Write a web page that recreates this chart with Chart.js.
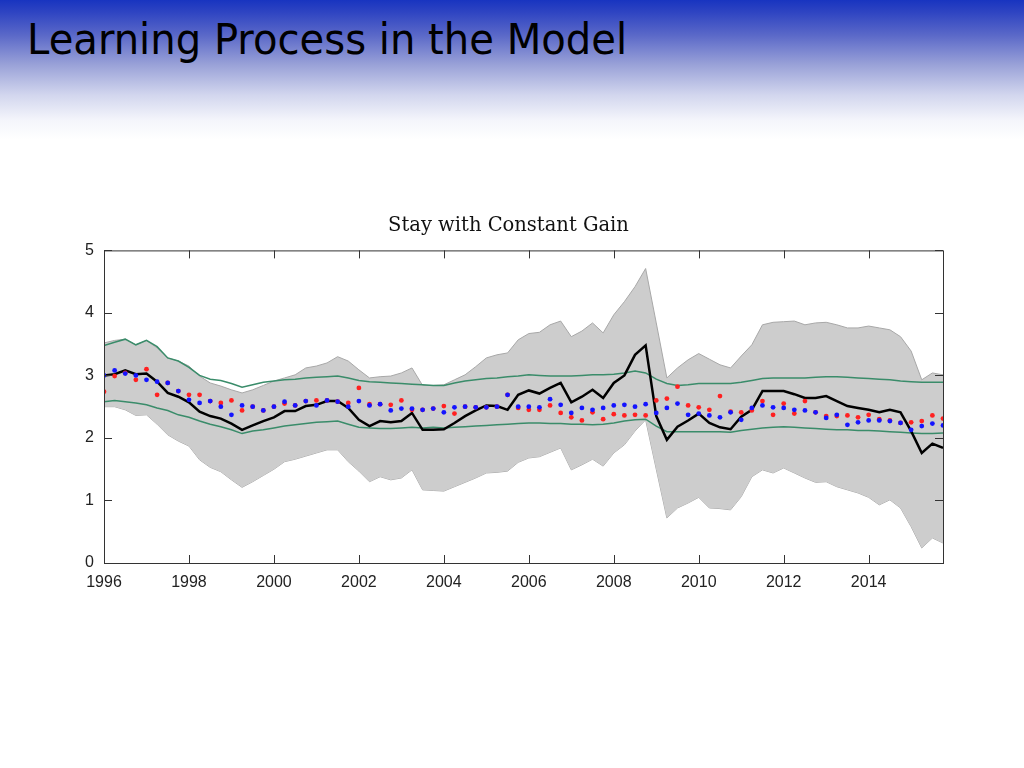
<!DOCTYPE html>
<html lang="en">
<head>
    <meta charset="UTF-8">
    <title>Learning Process in the Model</title>
    <script src="https://cdn.jsdelivr.net/npm/chart.js@4.4.0/dist/chart.umd.min.js"></script>
    <style>
        html, body { margin: 0; padding: 0; background: #fff; }
        #page { position: relative; width: 1024px; height: 768px; overflow: hidden; }
        #banner {
            position: absolute; left: 0; top: 0; width: 1024px; height: 140px;
            background: linear-gradient(to bottom, #1834c0 0px, #2e44c2 12px, #5a68c8 35px, #9aa2d8 65px, #d2d6ee 95px, #f4f5fb 120px, #ffffff 140px);
        }
        #heading {
            position: absolute; left: 27px; top: 15px; margin: 0;
            font-family: "DejaVu Sans", sans-serif; font-weight: normal;
            font-size: 42px; color: #000; white-space: nowrap;
            transform-origin: 0 0; transform: scaleX(0.955);
        }
        #wrap { position: absolute; left: 0; top: 0; width: 1024px; height: 768px; }
    </style>
</head>
<body>
<div id="page">
    <div id="banner"></div>
    <h1 id="heading">Learning Process in the Model</h1>
    <div id="wrap"><canvas id="gainChart"></canvas></div>
</div>

<script>
    // quarterly, 1996Q1 .. 2015Q4
    const startYear = 1996
    const xTicks = [1996, 1998, 2000, 2002, 2004, 2006, 2008, 2010, 2012, 2014]
    const yTicks = [0, 1, 2, 3, 4, 5]

    const bandHigh = [3.52, 3.56, 3.58, 3.49, 3.56, 3.44, 3.28, 3.23, 3.15, 2.99, 2.88, 2.83, 2.77, 2.72, 2.77, 2.84,
        2.91, 2.96, 3.01, 3.12, 3.15, 3.20, 3.30, 3.23, 3.09, 2.96, 2.98, 2.99, 3.04, 3.12, 2.84, 2.84,
        2.85, 2.93, 3.01, 3.14, 3.28, 3.33, 3.36, 3.57, 3.67, 3.69, 3.81, 3.87, 3.62, 3.71, 3.84, 3.68,
        3.97, 4.18, 4.42, 4.71, 3.84, 2.96, 3.12, 3.25, 3.35, 3.26, 3.17, 3.12, 3.31, 3.49, 3.81, 3.85,
        3.86, 3.87, 3.81, 3.84, 3.85, 3.81, 3.76, 3.76, 3.79, 3.76, 3.73, 3.62, 3.39, 2.93, 3.04, 3.01]
    const bandLow = [2.50, 2.50, 2.45, 2.36, 2.37, 2.22, 2.05, 1.95, 1.87, 1.65, 1.53, 1.46, 1.33, 1.21, 1.30, 1.40,
        1.50, 1.62, 1.66, 1.71, 1.76, 1.81, 1.81, 1.62, 1.47, 1.30, 1.38, 1.33, 1.36, 1.49, 1.17, 1.16,
        1.15, 1.22, 1.29, 1.36, 1.44, 1.45, 1.47, 1.61, 1.68, 1.70, 1.77, 1.84, 1.49, 1.57, 1.66, 1.55,
        1.76, 1.89, 2.11, 2.29, 1.50, 0.72, 0.88, 0.96, 1.05, 0.88, 0.87, 0.85, 1.06, 1.38, 1.49, 1.44,
        1.52, 1.44, 1.36, 1.29, 1.30, 1.22, 1.17, 1.12, 1.05, 0.93, 1.01, 0.88, 0.58, 0.24, 0.40, 0.32]
    const greenHigh = [3.48, 3.53, 3.58, 3.49, 3.56, 3.46, 3.28, 3.23, 3.13, 3.00, 2.94, 2.92, 2.87, 2.81, 2.85, 2.89,
        2.91, 2.93, 2.94, 2.96, 2.97, 2.98, 2.99, 2.96, 2.92, 2.90, 2.89, 2.88, 2.87, 2.86, 2.85, 2.84,
        2.84, 2.88, 2.91, 2.93, 2.95, 2.96, 2.98, 2.99, 3.01, 3.00, 2.99, 2.99, 2.99, 3.00, 3.01, 3.01,
        3.02, 3.04, 3.07, 3.04, 2.94, 2.87, 2.84, 2.85, 2.87, 2.87, 2.87, 2.87, 2.89, 2.92, 2.95, 2.96,
        2.96, 2.96, 2.96, 2.97, 2.98, 2.98, 2.97, 2.96, 2.95, 2.94, 2.93, 2.91, 2.90, 2.89, 2.89, 2.89]
    const greenLow = [2.58, 2.60, 2.58, 2.56, 2.53, 2.48, 2.44, 2.37, 2.33, 2.27, 2.22, 2.18, 2.13, 2.07, 2.11, 2.13,
        2.16, 2.19, 2.21, 2.23, 2.25, 2.26, 2.27, 2.22, 2.17, 2.16, 2.15, 2.15, 2.16, 2.17, 2.16, 2.17,
        2.16, 2.17, 2.18, 2.19, 2.20, 2.21, 2.22, 2.23, 2.24, 2.24, 2.23, 2.23, 2.22, 2.22, 2.21, 2.22,
        2.24, 2.27, 2.29, 2.30, 2.19, 2.10, 2.10, 2.10, 2.10, 2.10, 2.10, 2.09, 2.12, 2.14, 2.16, 2.17,
        2.18, 2.17, 2.16, 2.15, 2.14, 2.13, 2.13, 2.12, 2.12, 2.11, 2.10, 2.09, 2.08, 2.07, 2.07, 2.08]
    const actual = [3.00, 3.02, 3.08, 3.02, 3.03, 2.90, 2.72, 2.66, 2.57, 2.42, 2.35, 2.31, 2.23, 2.13, 2.20, 2.27,
        2.33, 2.43, 2.43, 2.51, 2.53, 2.59, 2.59, 2.48, 2.29, 2.19, 2.27, 2.25, 2.27, 2.40, 2.13, 2.13,
        2.14, 2.24, 2.35, 2.44, 2.52, 2.51, 2.45, 2.69, 2.76, 2.71, 2.80, 2.88, 2.57, 2.66, 2.77, 2.64,
        2.88, 3.00, 3.33, 3.48, 2.35, 1.97, 2.18, 2.28, 2.39, 2.24, 2.17, 2.14, 2.34, 2.45, 2.75, 2.75,
        2.75, 2.70, 2.64, 2.64, 2.67, 2.59, 2.51, 2.48, 2.45, 2.41, 2.45, 2.41, 2.11, 1.76, 1.91, 1.84]
    const redDots = [2.74, 2.99, 3.04, 2.93, 3.10, 2.69, 2.88, 2.75, 2.69, 2.69, 2.59, 2.56, 2.60, 2.44, 2.50, 2.44,
        2.50, 2.55, 2.52, 2.59, 2.60, 2.60, 2.58, 2.56, 2.80, 2.54, 2.54, 2.53, 2.60, 2.45, 2.45, 2.47,
        2.51, 2.39, 2.50, 2.49, 2.49, 2.50, 2.69, 2.48, 2.45, 2.45, 2.52, 2.40, 2.33, 2.28, 2.41, 2.30,
        2.38, 2.36, 2.37, 2.36, 2.60, 2.63, 2.82, 2.52, 2.49, 2.45, 2.67, 2.42, 2.41, 2.44, 2.59, 2.37,
        2.55, 2.39, 2.59, 2.41, 2.35, 2.35, 2.36, 2.33, 2.37, 2.30, 2.28, 2.24, 2.25, 2.27, 2.36, 2.31]
    const blueDots = [3.00, 3.08, 3.03, 3.00, 2.93, 2.90, 2.88, 2.75, 2.61, 2.56, 2.59, 2.50, 2.37, 2.52, 2.50, 2.44,
        2.50, 2.58, 2.52, 2.59, 2.52, 2.60, 2.58, 2.50, 2.59, 2.52, 2.54, 2.44, 2.47, 2.47, 2.45, 2.47,
        2.41, 2.49, 2.50, 2.49, 2.49, 2.50, 2.69, 2.50, 2.50, 2.49, 2.62, 2.53, 2.40, 2.48, 2.45, 2.48,
        2.52, 2.53, 2.50, 2.54, 2.40, 2.48, 2.55, 2.37, 2.39, 2.36, 2.33, 2.41, 2.29, 2.48, 2.52, 2.49,
        2.48, 2.45, 2.44, 2.41, 2.32, 2.37, 2.21, 2.25, 2.28, 2.28, 2.27, 2.24, 2.13, 2.19, 2.23, 2.20]

    const toPoints = (arr) => arr.map((v, i) => ({ x: startYear + i * 0.25, y: v }))

    // MATLAB-like box with inward ticks on all four sides
    const boxPlugin = {
        id: "box",
        afterDatasetsDraw(chart) {
            const ctx = chart.ctx
            const a = chart.chartArea
            const xs = chart.scales.x
            const ys = chart.scales.y
            ctx.save()
            ctx.strokeStyle = "#333"
            ctx.lineWidth = 1
            ctx.strokeRect(a.left + 0.5, a.top + 0.5, a.right - a.left, a.bottom - a.top)
            ctx.beginPath()
            xTicks.forEach(v => {
                const px = Math.round(xs.getPixelForValue(v)) + 0.5
                ctx.moveTo(px, a.bottom); ctx.lineTo(px, a.bottom - 8)
                ctx.moveTo(px, a.top); ctx.lineTo(px, a.top + 8)
            })
            yTicks.forEach(v => {
                const py = Math.round(ys.getPixelForValue(v)) + 0.5
                ctx.moveTo(a.left, py); ctx.lineTo(a.left + 8, py)
                ctx.moveTo(a.right, py); ctx.lineTo(a.right - 8, py)
            })
            ctx.stroke()
            ctx.restore()
        }
    }

    const green = "#3a8c6a"

    let ctx = document.getElementById("gainChart").getContext("2d")
    let gainChart = new Chart(ctx, {
        type: "line",
        data: {
            datasets: [
                { label: "blue", data: toPoints(blueDots), showLine: false, pointRadius: 2.4, pointBackgroundColor: "#1414ff", pointBorderWidth: 0, order: 0 },
                { label: "red", data: toPoints(redDots), showLine: false, pointRadius: 2.4, pointBackgroundColor: "#ff2020", pointBorderWidth: 0, order: 1 },
                { label: "actual", data: toPoints(actual), borderColor: "#000", borderWidth: 2.5, pointRadius: 0, order: 2 },
                { label: "greenHigh", data: toPoints(greenHigh), borderColor: green, borderWidth: 1.5, pointRadius: 0, order: 3 },
                { label: "greenLow", data: toPoints(greenLow), borderColor: green, borderWidth: 1.5, pointRadius: 0, order: 3 },
                { label: "bandHigh", data: toPoints(bandHigh), borderColor: "#a8a8a8", borderWidth: 1, pointRadius: 0, fill: "+1", backgroundColor: "#cdcdcd", order: 4 },
                { label: "bandLow", data: toPoints(bandLow), borderColor: "#a8a8a8", borderWidth: 1, pointRadius: 0, order: 5 }
            ]
        },
        options: {
            responsive: true,
            maintainAspectRatio: false,
            animation: false,
            layout: { padding: { top: 214, left: 74, right: 81, bottom: 175 } },
            plugins: {
                legend: { display: false },
                tooltip: { enabled: false },
                title: {
                    display: true,
                    text: "Stay with Constant Gain",
                    color: "#111",
                    font: { family: "'DejaVu Serif', serif", size: 19.5, weight: "normal" },
                    padding: { top: 0, bottom: 13 }
                }
            },
            scales: {
                x: {
                    type: "linear",
                    min: 1996,
                    max: 2015.75,
                    afterBuildTicks: (scale) => { scale.ticks = xTicks.map(v => ({ value: v })) },
                    afterFit: (scale) => { scale.height = 30 },
                    grid: { display: false },
                    border: { display: false },
                    ticks: {
                        color: "#222", padding: 2, maxRotation: 0,
                        font: { family: "'Liberation Sans', Arial, sans-serif", size: 16 },
                        callback: (v) => String(v)
                    }
                },
                y: {
                    min: 0,
                    max: 5,
                    afterBuildTicks: (scale) => { scale.ticks = yTicks.map(v => ({ value: v })) },
                    afterFit: (scale) => { scale.width = 30 },
                    grid: { display: false },
                    border: { display: false },
                    ticks: {
                        color: "#222", padding: 2,
                        font: { family: "'Liberation Sans', Arial, sans-serif", size: 16 }
                    }
                }
            }
        },
        plugins: [boxPlugin]
    });
</script>
</body>
</html>
